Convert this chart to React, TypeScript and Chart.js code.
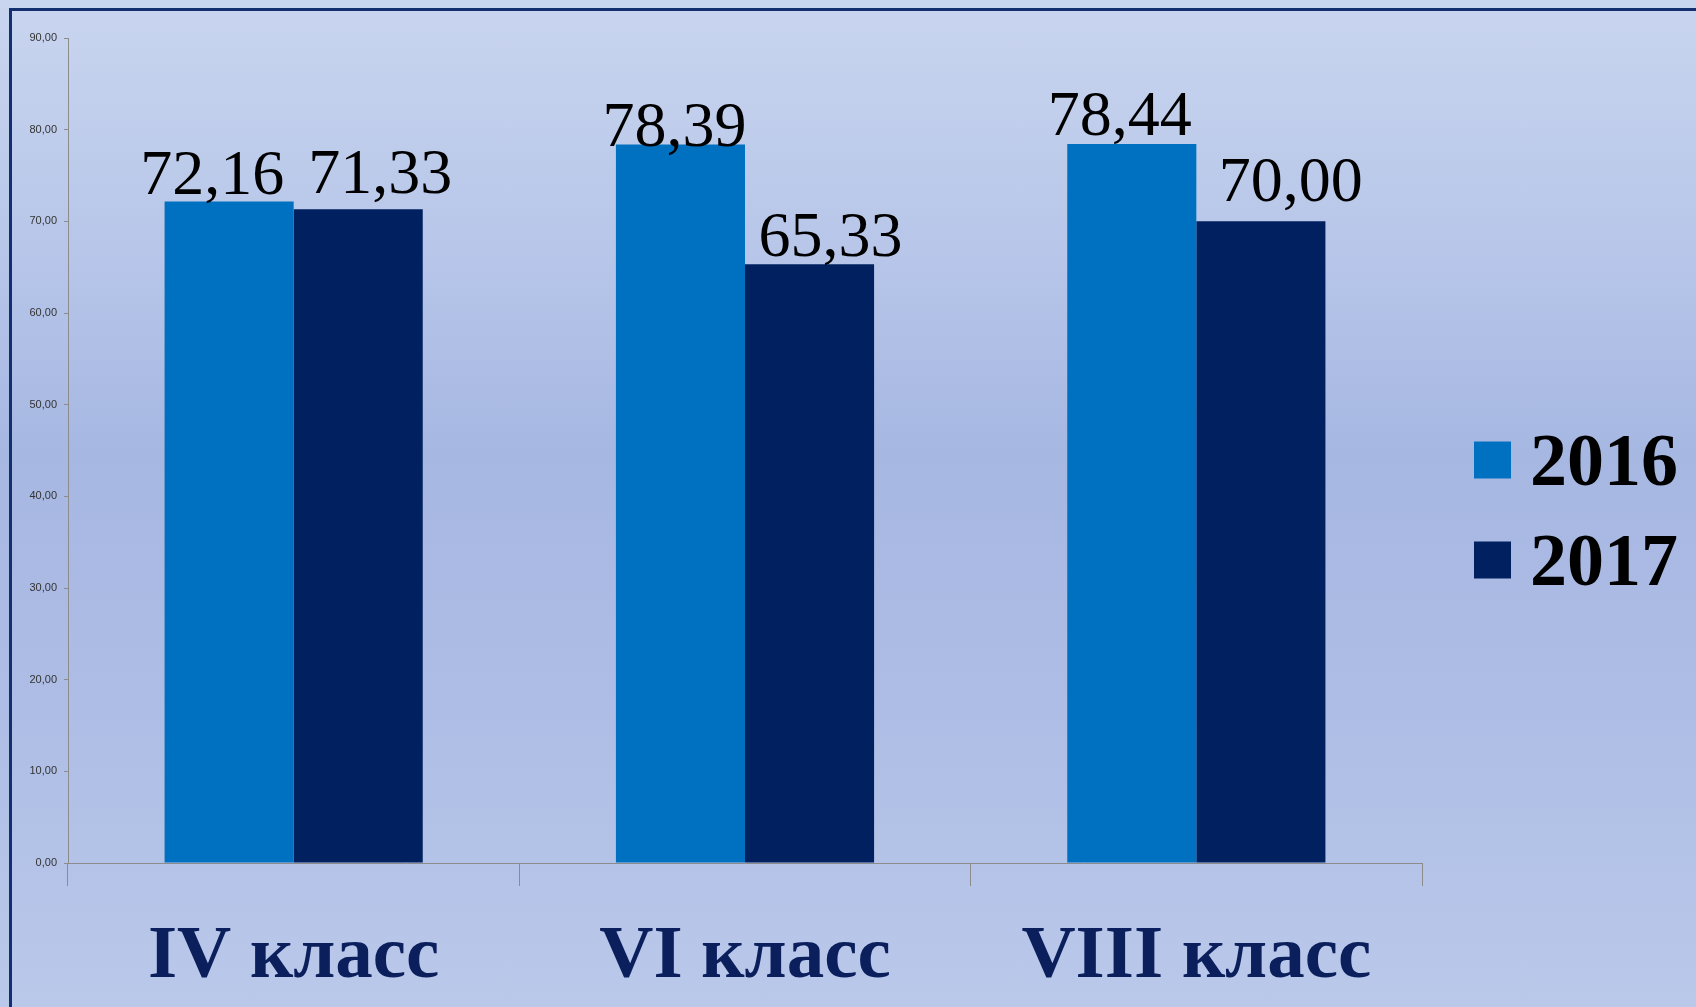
import React, { useEffect, useRef } from "react";
import { Chart, registerables } from "chart.js";

Chart.register(...registerables);

const categories = ["IV класс", "VI класс", "VIII класс"];
const seriesNames = ["2016", "2017"];
const values2016 = [72.16, 78.39, 78.44];
const values2017 = [71.33, 65.33, 70.0];
const yMin = 0;
const yMax = 90;
const yStep = 10;

const color2016 = "#0070c0";
const color2017 = "#002060";

// label placement tweaks (px), per series / per category
const labelDx = [
  [-17, -6, -12],
  [22, 21, 30],
];
const labelDy = [
  [-8, 2, -9],
  [-16, -8, -20],
];

const fmt = (v: number) => v.toFixed(2).replace(".", ",");

const valueLabelsPlugin = {
  id: "valueLabels",
  afterDatasetsDraw(chart: any) {
    const ctx = chart.ctx;
    ctx.save();
    ctx.font = "64px 'Liberation Serif', 'Times New Roman', serif";
    ctx.fillStyle = "#000000";
    ctx.textAlign = "center";
    ctx.textBaseline = "alphabetic";
    chart.data.datasets.forEach((ds: any, di: number) => {
      const meta = chart.getDatasetMeta(di);
      meta.data.forEach((bar: any, i: number) => {
        ctx.fillText(fmt(ds.data[i]), bar.x + labelDx[di][i], bar.y + labelDy[di][i]);
      });
    });
    ctx.restore();
  },
};

const sideLegendPlugin = {
  id: "sideLegend",
  afterDraw(chart: any) {
    const ctx = chart.ctx;
    const area = chart.chartArea;
    const boxX = area.right + 52;
    const box = 37;
    const firstCenter = 460;
    const gap = 100;
    ctx.save();
    ctx.font = "bold 74px 'Liberation Serif', 'Times New Roman', serif";
    ctx.textAlign = "left";
    ctx.textBaseline = "middle";
    chart.data.datasets.forEach((ds: any, di: number) => {
      const cy = firstCenter + di * gap;
      ctx.fillStyle = ds.backgroundColor;
      ctx.fillRect(boxX, cy - box / 2, box, box);
      ctx.fillStyle = "#000000";
      ctx.fillText(ds.label, boxX + box + 19, cy + 6);
    });
    ctx.restore();
  },
};

export default function App() {
  const canvasRef = useRef<HTMLCanvasElement | null>(null);

  useEffect(() => {
    if (!canvasRef.current) return;
    const chart = new Chart(canvasRef.current, {
      type: "bar",
      data: {
        labels: categories,
        datasets: [
          {
            label: seriesNames[0],
            data: values2016,
            backgroundColor: color2016,
            borderWidth: 0,
            categoryPercentage: 0.572,
            barPercentage: 1.0,
          },
          {
            label: seriesNames[1],
            data: values2017,
            backgroundColor: color2017,
            borderWidth: 0,
            categoryPercentage: 0.572,
            barPercentage: 1.0,
          },
        ],
      },
      options: {
        responsive: false,
        animation: false,
        devicePixelRatio: 1,
        layout: { padding: { top: 38, right: 274, left: 0, bottom: 0 } },
        plugins: {
          legend: { display: false },
          tooltip: { enabled: false },
        },
        scales: {
          x: {
            grid: {
              display: true,
              drawOnChartArea: false,
              drawTicks: true,
              tickLength: 23,
              color: "#8c8c8c",
              offset: true,
            },
            border: { display: true, color: "#8c8c8c", width: 1 },
            ticks: {
              padding: 27,
              color: "#0a1f5c",
              font: {
                family: "'Liberation Serif', 'Times New Roman', serif",
                size: 75,
                weight: "bold",
              },
              maxRotation: 0,
            },
            afterFit: (scale: any) => {
              scale.height = 1007 - 863;
            },
          },
          y: {
            min: yMin,
            max: yMax,
            ticks: {
              stepSize: yStep,
              padding: 7,
              color: "#333333",
              font: { family: "'Liberation Sans', Arial, sans-serif", size: 11 },
              callback: (v: any) => fmt(Number(v)),
            },
            grid: {
              display: true,
              drawOnChartArea: false,
              drawTicks: true,
              tickLength: 4,
              color: "#8c8c8c",
            },
            border: { display: true, color: "#8c8c8c", width: 1 },
            afterFit: (scale: any) => {
              scale.width = 68;
            },
          },
        },
      },
      plugins: [valueLabelsPlugin, sideLegendPlugin],
    } as any);
    return () => chart.destroy();
  }, []);

  return (
    <div
      style={{
        position: "absolute",
        left: 0,
        top: 0,
        width: 1696,
        height: 1007,
        overflow: "hidden",
        background:
          "linear-gradient(to bottom, #c9d5ef 0%, #b7c6e9 25%, #a6b7e2 45%, #aebde5 70%, #bac8ea 100%)",
      }}
    >
      <div
        style={{
          position: "absolute",
          left: 9,
          top: 8,
          width: 2000,
          height: 2000,
          borderLeft: "3px solid #132f70",
          borderTop: "3px solid #132f70",
          boxSizing: "border-box",
        }}
      />
      <canvas
        ref={canvasRef}
        width={1696}
        height={1007}
        style={{ position: "absolute", left: 0, top: 0, width: 1696, height: 1007 }}
      />
    </div>
  );
}
